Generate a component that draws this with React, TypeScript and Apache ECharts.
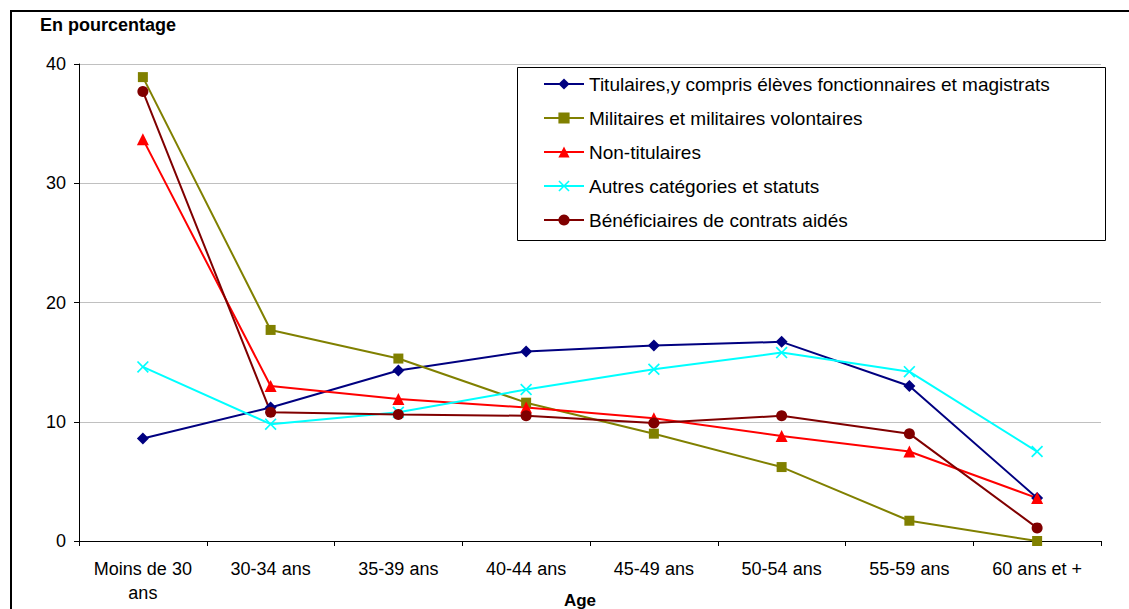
import React, { useEffect, useRef } from "react";
import * as echarts from "echarts";

const categories = ["Moins de 30\nans", "30-34 ans", "35-39 ans", "40-44 ans", "45-49 ans", "50-54 ans", "55-59 ans", "60 ans et +"];
const yTicks = [0, 10, 20, 30, 40];

const titulaires = [8.6, 11.2, 14.3, 15.9, 16.4, 16.7, 13.0, 3.6];
const militaires = [38.9, 17.7, 15.3, 11.6, 9.0, 6.2, 1.7, 0.0];
const nonTitulaires = [33.7, 13.0, 11.9, 11.2, 10.3, 8.8, 7.5, 3.6];
const autres = [14.6, 9.8, 10.8, 12.7, 14.4, 15.8, 14.2, 7.5];
const beneficiaires = [37.7, 10.8, 10.6, 10.5, 9.9, 10.5, 9.0, 1.1];

const seriesNames = [
  "Titulaires,y compris élèves fonctionnaires et magistrats",
  "Militaires et militaires volontaires",
  "Non-titulaires",
  "Autres catégories et statuts",
  "Bénéficiaires de contrats aidés",
];

const FONT = "'Liberation Sans', Arial, sans-serif";
const X_PATH = "path://M0,1 L1,0 L5,4 L9,0 L10,1 L6,5 L10,9 L9,10 L5,6 L1,10 L0,9 L4,5 Z";

export default function App() {
  const ref = useRef<HTMLDivElement>(null);
  useEffect(() => {
    const chart = echarts.init(ref.current!, null, { renderer: "svg" });
    const mk = (name: string, data: number[], color: string, symbol: string, size: number) => ({
      name,
      type: "line",
      data,
      symbol,
      symbolSize: size,
      lineStyle: { color, width: 2 },
      itemStyle: { color },
      emphasis: { disabled: true },
    });
    chart.setOption({
      animation: false,
      textStyle: { fontFamily: FONT },
      grid: { left: 79, right: 28, top: 64, bottom: 68 },
      graphic: [
        { type: "line", shape: { x1: 11, y1: 10, x2: 11, y2: 609 }, style: { stroke: "#000", lineWidth: 2 } },
        { type: "line", shape: { x1: 10, y1: 11, x2: 1129, y2: 11 }, style: { stroke: "#000", lineWidth: 2 } },
        { type: "rect", shape: { x: 517.5, y: 67.5, width: 588, height: 173 }, style: { fill: "#fff", stroke: "#000", lineWidth: 1 }, z: 10 },
        { type: "text", x: 40, y: 25, style: { text: "En pourcentage", font: `bold 18px ${FONT}`, fill: "#000", verticalAlign: "middle" } },
        { type: "text", x: 580, y: 600, style: { text: "Age", font: `bold 17px ${FONT}`, fill: "#000", align: "center", verticalAlign: "middle" } },
      ],
      legend: {
        orient: "vertical",
        left: 543,
        top: 74.5,
        itemWidth: 40,
        itemHeight: 14,
        itemGap: 15,
        padding: 0,
        z: 20,
        textStyle: { fontSize: 19, color: "#000", fontFamily: FONT },
        data: seriesNames,
      },
      xAxis: {
        type: "category",
        data: categories,
        boundaryGap: true,
        axisLine: { lineStyle: { color: "#000", width: 1 } },
        axisTick: { show: true, inside: false, length: 5, interval: 0, lineStyle: { color: "#000" } },
        axisLabel: { fontSize: 18, color: "#000", margin: 16, lineHeight: 24, interval: 0 },
      },
      yAxis: {
        type: "value",
        min: 0,
        max: 40,
        interval: 10,
        axisLine: { show: true, lineStyle: { color: "#000", width: 1 } },
        axisTick: { show: true, inside: false, length: 5, lineStyle: { color: "#000" } },
        axisLabel: { fontSize: 18, color: "#000", margin: 13 },
        splitLine: { show: true, lineStyle: { color: "#c0c0c0", width: 1 } },
      },
      series: [
        mk(seriesNames[0], titulaires, "#000080", "diamond", 12),
        mk(seriesNames[1], militaires, "#808000", "rect", 10),
        mk(seriesNames[2], nonTitulaires, "#FF0000", "triangle", 12),
        mk(seriesNames[3], autres, "#00FFFF", X_PATH, 12),
        mk(seriesNames[4], beneficiaires, "#800000", "circle", 11),
      ],
    });
    return () => chart.dispose();
  }, []);
  return <div ref={ref} style={{ position: "absolute", left: 0, top: 0, width: 1129, height: 609, background: "#fff" }} />;
}
